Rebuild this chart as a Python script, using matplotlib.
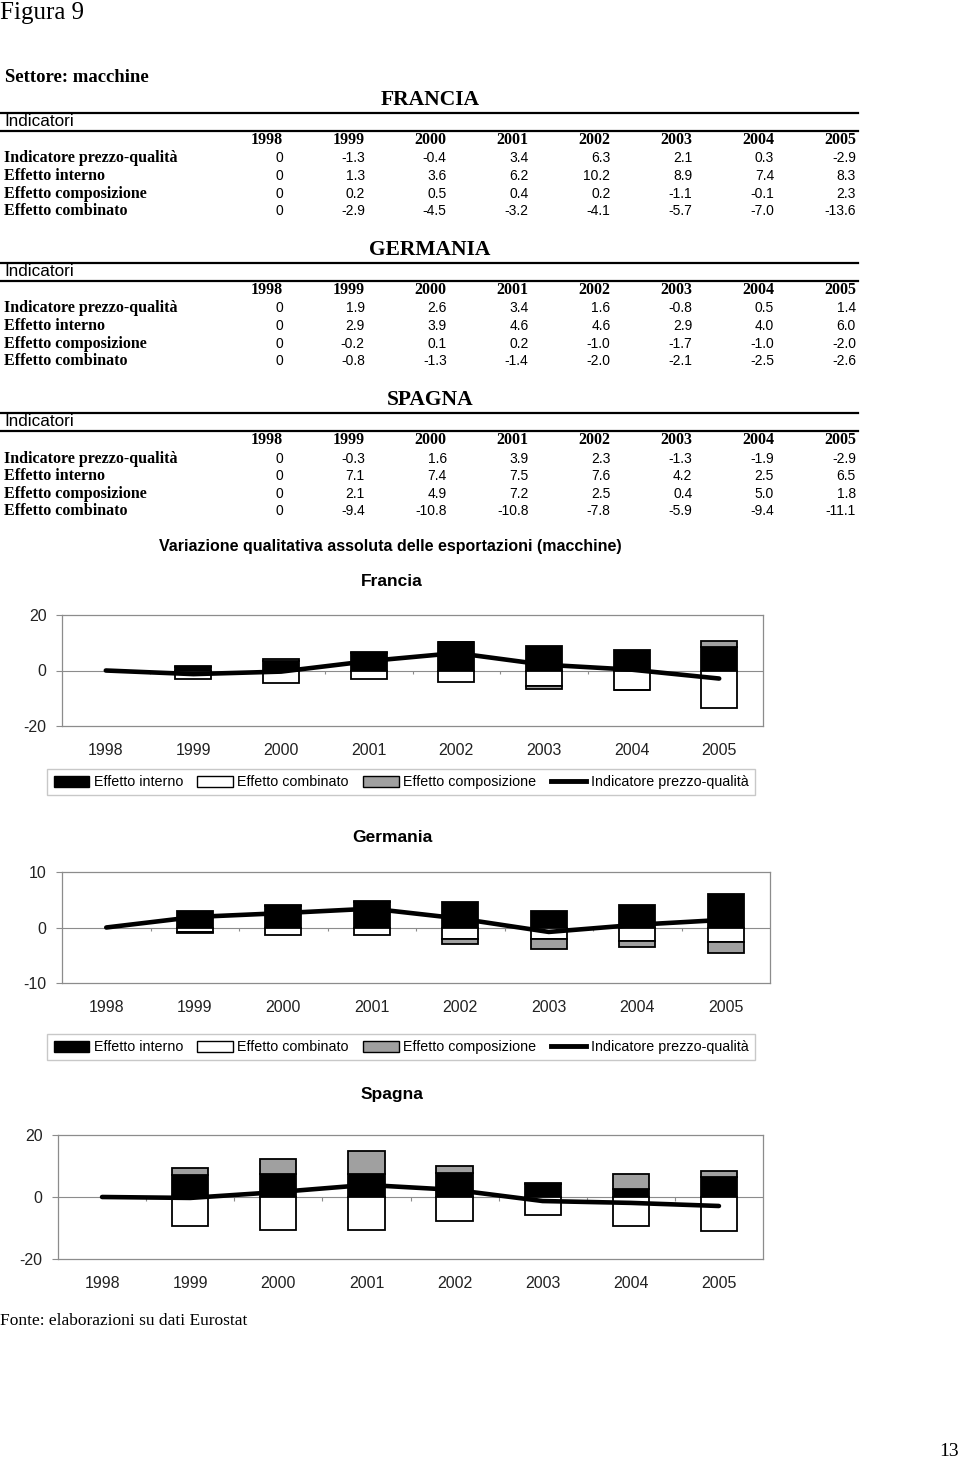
import numpy as np
import matplotlib
matplotlib.use('Agg')
import matplotlib.pyplot as plt
from matplotlib.lines import Line2D
from matplotlib.patches import Patch

plt.rcParams['axes.unicode_minus'] = False

SERIF = 'Liberation Serif'
SANS = 'Liberation Sans'

years = ['1998', '1999', '2000', '2001', '2002', '2003', '2004', '2005']
row_labels = ['Indicatore prezzo-qualità', 'Effetto interno',
              'Effetto composizione', 'Effetto combinato']

# Francia
fr_prezzo = [0, -1.3, -0.4, 3.4, 6.3, 2.1, 0.3, -2.9]
fr_interno = [0, 1.3, 3.6, 6.2, 10.2, 8.9, 7.4, 8.3]
fr_compos = [0, 0.2, 0.5, 0.4, 0.2, -1.1, -0.1, 2.3]
fr_combin = [0, -2.9, -4.5, -3.2, -4.1, -5.7, -7.0, -13.6]

# Germania
de_prezzo = [0, 1.9, 2.6, 3.4, 1.6, -0.8, 0.5, 1.4]
de_interno = [0, 2.9, 3.9, 4.6, 4.6, 2.9, 4.0, 6.0]
de_compos = [0, -0.2, 0.1, 0.2, -1.0, -1.7, -1.0, -2.0]
de_combin = [0, -0.8, -1.3, -1.4, -2.0, -2.1, -2.5, -2.6]

# Spagna
es_prezzo = [0, -0.3, 1.6, 3.9, 2.3, -1.3, -1.9, -2.9]
es_interno = [0, 7.1, 7.4, 7.5, 7.6, 4.2, 2.5, 6.5]
es_compos = [0, 2.1, 4.9, 7.2, 2.5, 0.4, 5.0, 1.8]
es_combin = [0, -9.4, -10.8, -10.8, -7.8, -5.9, -9.4, -11.1]

W, H = 960, 1461
fig = plt.figure(figsize=(W / 100, H / 100), dpi=100)


def fx(x):
    return x / W


def fy(y):
    return 1 - y / H


def hline(y, x0=0, x1=858, lw=1.6):
    fig.add_artist(Line2D([fx(x0), fx(x1)], [fy(y), fy(y)], color='black', lw=lw,
                          transform=fig.transFigure))


def draw_table(name, y0, rows):
    # y0 = centre of the country title
    fig.text(fx(430), fy(y0), name, ha='center', va='center', family=SERIF,
             fontsize=15.5, fontweight='bold')
    hline(y0 + 12.5)
    fig.text(fx(4), fy(y0 + 22), 'Indicatori', ha='left', va='center', family=SANS,
             fontsize=12.3)
    hline(y0 + 31)
    col_right = [283 + 81.85 * i for i in range(len(years))]
    for xr, yr in zip(col_right, years):
        fig.text(fx(xr), fy(y0 + 40.5), yr, ha='right', va='center', family=SERIF,
                 fontsize=11.5, fontweight='bold')
    for r, (lab, vals) in enumerate(zip(row_labels, rows)):
        yy = y0 + 58.5 + 17.6 * r
        fig.text(fx(4), fy(yy), lab, ha='left', va='center', family=SERIF,
                 fontsize=11.5, fontweight='bold')
        for i, (xr, v) in enumerate(zip(col_right, vals)):
            s = '0' if i == 0 else f'{v:.1f}'
            fig.text(fx(xr), fy(yy), s, ha='right', va='center', family=SANS,
                     fontsize=10)


fig.text(fx(0), fy(13), 'Figura 9', ha='left', va='center', family=SERIF, fontsize=18)
fig.text(fx(5), fy(77), 'Settore: macchine', ha='left', va='center', family=SERIF,
         fontsize=13.5, fontweight='bold')

draw_table('FRANCIA', 100, [fr_prezzo, fr_interno, fr_compos, fr_combin])
draw_table('GERMANIA', 250, [de_prezzo, de_interno, de_compos, de_combin])
draw_table('SPAGNA', 400, [es_prezzo, es_interno, es_compos, es_combin])

fig.text(fx(390), fy(546), 'Variazione qualitativa assoluta delle esportazioni (macchine)',
         ha='center', va='center', family=SANS, fontsize=11.5, fontweight='bold')

GRAY = '#8c8c8c'
COMP_GRAY = '#a0a0a0'


def draw_chart(title, title_y, left, right, top, bottom, lim, prezzo, interno, compos, combin):
    fig.text(fx(392), fy(title_y), title, ha='center', va='center', family=SANS,
             fontsize=12.5, fontweight='bold')
    ax = fig.add_axes([fx(left), fy(bottom), (right - left) / W, (bottom - top) / H])
    x = np.arange(len(years))
    pos_base = np.zeros(len(years))
    neg_base = np.zeros(len(years))
    for vals, col in [(interno, 'black'), (combin, 'white'), (compos, COMP_GRAY)]:
        v = np.array(vals, dtype=float)
        bottom_ = np.where(v >= 0, pos_base, neg_base)
        lws = [1.3 if val != 0 else 0 for val in v]
        ax.bar(x, v, width=0.41, bottom=bottom_, color=col, edgecolor='black',
               linewidth=lws, zorder=3)
        pos_base += np.clip(v, 0, None)
        neg_base += np.clip(v, None, 0)
    ax.plot(x, prezzo, color='black', lw=3.3, solid_capstyle='round',
            solid_joinstyle='round', zorder=5)
    ax.axhline(0, color=GRAY, lw=0.8, zorder=1)
    tick_len = 2 * lim * 3.5 / (bottom - top)
    ax.vlines(x[:-1] + 0.5, -tick_len, 0, color=GRAY, lw=0.8, zorder=1)
    ax.set_xlim(-0.5, len(years) - 0.5)
    ax.set_ylim(-lim, lim)
    ax.set_yticks([-lim, 0, lim])
    ax.set_xticks(x)
    ax.set_xticklabels(years)
    for sp in ax.spines.values():
        sp.set_edgecolor(GRAY)
        sp.set_linewidth(0.9)
    ax.tick_params(axis='x', length=0, pad=12, labelsize=11.5, labelcolor='#222222')
    ax.tick_params(axis='y', length=4, width=0.8, color=GRAY, pad=7, labelsize=11.5,
                   labelcolor='#222222')
    for lab in ax.get_xticklabels() + ax.get_yticklabels():
        lab.set_family(SANS)
    return ax


def draw_legend(cy):
    handles = [Patch(facecolor='black', edgecolor='black', lw=1.0),
               Patch(facecolor='white', edgecolor='black', lw=1.0),
               Patch(facecolor=COMP_GRAY, edgecolor='black', lw=1.0),
               Line2D([0], [0], color='black', lw=3.5)]
    labels = ['Effetto interno', 'Effetto combinato', 'Effetto composizione',
              'Indicatore prezzo-qualità']
    leg = fig.legend(handles, labels, loc='center', bbox_to_anchor=(fx(401), fy(cy)),
                     ncol=4, frameon=True, fancybox=False, edgecolor='#bbbbbb',
                     handlelength=2.5, handleheight=0.8, handletextpad=0.3,
                     columnspacing=1.0, borderpad=0.45,
                     prop={'family': SANS, 'size': 10.3})
    leg.get_frame().set_linewidth(1.0)


draw_chart('Francia', 582, 62, 763, 615, 726, 20, fr_prezzo, fr_interno, fr_compos, fr_combin)
draw_legend(782)
draw_chart('Germania', 838, 62, 770, 872, 983, 10, de_prezzo, de_interno, de_compos, de_combin)
draw_legend(1047)
draw_chart('Spagna', 1095, 58, 763, 1135, 1259, 20, es_prezzo, es_interno, es_compos, es_combin)

fig.text(fx(0), fy(1321), 'Fonte: elaborazioni su dati Eurostat', ha='left', va='center',
         family=SERIF, fontsize=12.5)
fig.text(fx(959), fy(1451), '13', ha='right', va='center', family=SERIF, fontsize=14)

fig.savefig('out.png', dpi=100)
